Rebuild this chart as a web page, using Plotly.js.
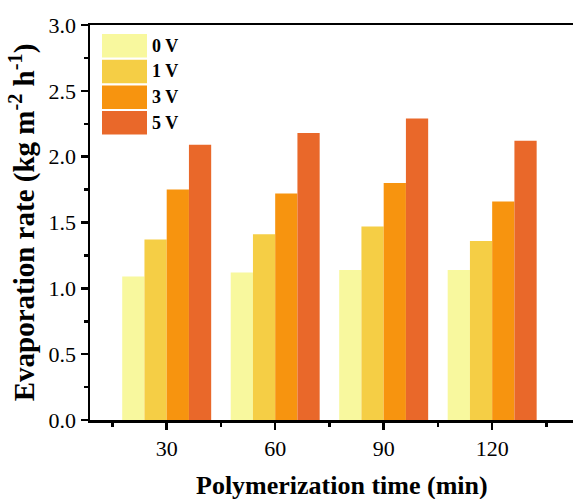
<!DOCTYPE html>
<html>
<head>
<meta charset="utf-8">
<script src="https://cdn.plot.ly/plotly-3.0.1.min.js"></script>
<style>html,body{margin:0;padding:0;background:#fff;}#chart{width:573px;height:499px;}</style>
</head>
<body>
<div id="chart"></div>
<script>
const categories = ["30", "60", "90", "120"];
const seriesNames = ["0 V", "1 V", "3 V", "5 V"];
const v0 = [1.09, 1.12, 1.14, 1.14];
const v1 = [1.37, 1.41, 1.47, 1.36];
const v3 = [1.75, 1.72, 1.80, 1.66];
const v5 = [2.09, 2.18, 2.29, 2.12];
const colors = ["#F8F89E", "#F5CE45", "#F7940F", "#E9682A"];
const xTitle = "Polymerization time (min)";
const yTitle = "Evaporation rate (kg m<sup>-2</sup> h<sup>-1</sup>)";

const FONT = "'Liberation Serif', 'Times New Roman', 'DejaVu Serif', serif";

const allValues = [v0, v1, v3, v5];
const xIdx = categories.map((c, i) => i);

const traces = allValues.map((vals, k) => ({
  type: "bar",
  x: xIdx,
  y: vals,
  name: seriesNames[k],
  marker: {color: colors[k], line: {width: 0}},
  showlegend: false
}));

const W = 573, H = 499, ml = 90, mr = 0, mt = 25, mb = 79;
const pw = W - ml - mr, ph = H - mt - mb;
const px = x => (x - ml) / pw;
const py = y => 1 - (y - mt) / ph;
const shapes = [];
const annotations = [];
seriesNames.forEach((n, k) => {
  const top = 34 + k * 25.7, bot = top + 23.5;
  shapes.push({type: "rect", xref: "paper", yref: "paper",
    x0: px(102), x1: px(147), y0: py(bot), y1: py(top),
    fillcolor: colors[k], line: {width: 0}, layer: "above"});
  annotations.push({xref: "paper", yref: "paper", x: px(150), y: py((top + bot) / 2),
    xanchor: "left", yanchor: "middle", showarrow: false, text: "<b>" + n + "</b>",
    font: {family: FONT, size: 18, color: "#000"}});
});
annotations.push({xref: "paper", yref: "paper", x: px(342), y: py(485),
  xanchor: "center", yanchor: "middle", showarrow: false, text: "<b>" + xTitle + "</b>",
  font: {family: FONT, size: 26, color: "#000"}});

const layout = {
  width: W, height: H,
  margin: {l: ml, r: mr, t: mt, b: mb},
  paper_bgcolor: "#fff", plot_bgcolor: "#fff",
  barmode: "group", bargap: 0.18, bargroupgap: 0,
  font: {family: FONT, color: "#000"},
  xaxis: {
    range: [-0.707, 3.745],
    tickvals: xIdx, ticktext: categories,
    showline: true, linecolor: "#000", linewidth: 2.5, mirror: true,
    ticks: "outside", ticklen: 7, tickwidth: 2.5, tickcolor: "#000",
    minor: {tickvals: [-0.5, 0.5, 1.5, 2.5, 3.5], ticks: "outside", ticklen: 4, tickwidth: 2.5, tickcolor: "#000"},
    showgrid: false, zeroline: false,
    tickfont: {family: FONT, size: 22, color: "#000"}
  },
  yaxis: {
    range: [0, 3],
    tickvals: [0, 0.5, 1, 1.5, 2, 2.5, 3],
    ticktext: ["0.0", "0.5", "1.0", "1.5", "2.0", "2.5", "3.0"],
    showline: true, linecolor: "#000", linewidth: 2.5,
    ticks: "outside", ticklen: 7, tickwidth: 2.5, tickcolor: "#000",
    minor: {dtick: 0.25, ticks: "outside", ticklen: 4, tickwidth: 2.5, tickcolor: "#000"},
    showgrid: false, zeroline: false,
    tickfont: {family: FONT, size: 22, color: "#000"},
    title: {text: "<b>" + yTitle + "</b>", font: {family: FONT, size: 29, color: "#000"}, standoff: 6}
  },
  shapes: shapes,
  annotations: annotations
};

Plotly.newPlot("chart", traces, layout, {staticPlot: true, displayModeBar: false});
</script>
</body>
</html>
